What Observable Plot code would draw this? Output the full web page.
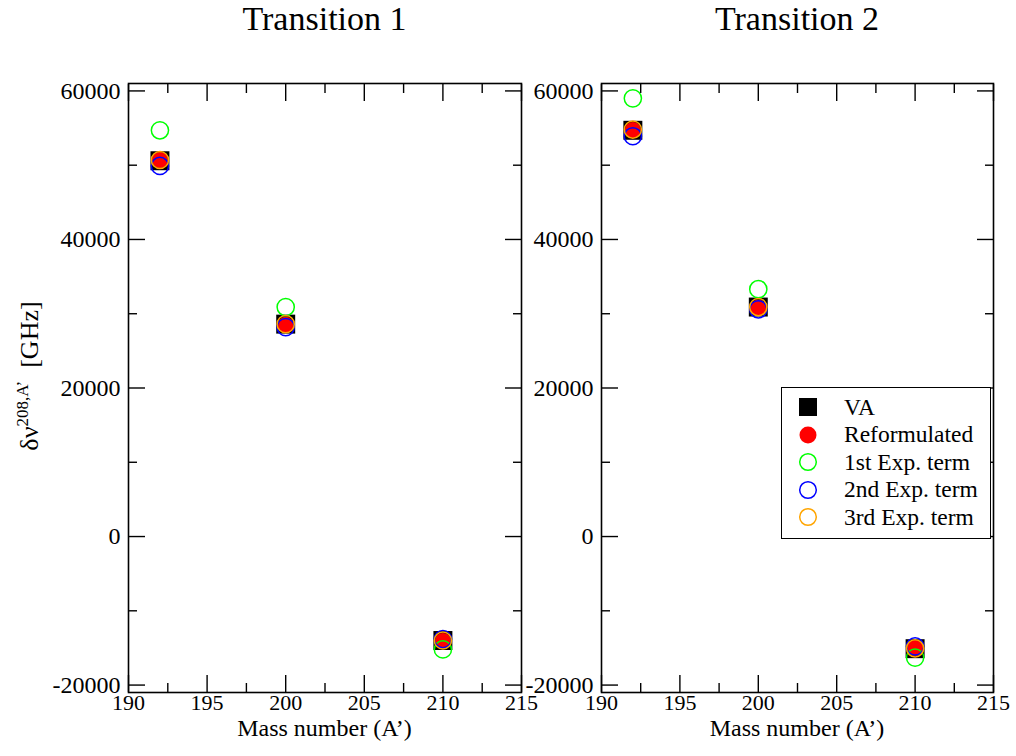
<!DOCTYPE html>
<html>
<head>
<meta charset="utf-8">
<script src="https://cdn.jsdelivr.net/npm/d3@7"></script>
<script src="https://cdn.jsdelivr.net/npm/@observablehq/plot@0.6"></script>
<style>
  html, body { margin: 0; padding: 0; background: white; }
  #wrap { position: relative; width: 1016px; height: 756px; font-family: "Liberation Serif", "DejaVu Serif", serif; color: black; overflow: hidden; }
  .panel { position: absolute; top: 50px; }
  .title { position: absolute; top: 2px; font-size: 34px; line-height: 34px; text-align: center; white-space: nowrap; transform: translateX(-50%); }
  .xlabel { position: absolute; top: 716px; font-size: 24px; line-height: 24px; white-space: nowrap; transform: translateX(-50%); }
  .ylabel { position: absolute; left: 29px; top: 376px; font-size: 26px; white-space: nowrap; transform: translate(-50%, -50%) rotate(-90deg); }
  .ylabel sup { font-size: 17px; }
  #legend { position: absolute; left: 781px; top: 387px; width: 210px; height: 152px; border: 1px solid black; background: white; box-sizing: border-box; font-size: 23.5px; }
  #legend .row { position: absolute; left: 0; height: 26px; display: flex; align-items: center; white-space: nowrap; }
  #legend svg { margin-left: 16px; margin-right: 26px; flex: none; }
</style>
</head>
<body>
<div id="wrap"></div>
<script>
// Mass numbers A' of the isotopes compared with 208
const massNumbers = [192, 200, 210];

// Isotope shifts δν^{208,A'} in GHz, transition 1
const va1 = [50600, 28600, -14000];
const reformulated1 = [50700, 28500, -14050];
const exp1st1 = [54700, 30900, -15200];
const exp2nd1 = [49900, 28200, -13800];
const exp3rd1 = [50700, 28600, -14000];

// Isotope shifts δν^{208,A'} in GHz, transition 2
const va2 = [54700, 30900, -15100];
const reformulated2 = [54750, 30800, -15000];
const exp1st2 = [59000, 33300, -16300];
const exp2nd2 = [53900, 30600, -14800];
const exp3rd2 = [54800, 30900, -15050];

// Axis ticks
const xMajor = [190, 195, 200, 205, 210, 215];
const xMinor = [192.5, 197.5, 202.5, 207.5, 212.5];
const yMajor = [-20000, 0, 20000, 40000, 60000];
const yMinor = [-10000, 10000, 30000, 50000];

const seriesNames = ["VA", "Reformulated", "1st Exp. term", "2nd Exp. term", "3rd Exp. term"];
const panelTitles = ["Transition 1", "Transition 2"];

// Marker style per series (drawn in this order)
const styles = {
  "VA": {symbol: "square", r: 10.7, fill: "black", stroke: "none"},
  "Reformulated": {symbol: "circle", r: 8, fill: "#ff0000", stroke: "none"},
  "1st Exp. term": {symbol: "circle", r: 8.6, fill: "none", stroke: "#00ff00", strokeWidth: 1.5},
  "2nd Exp. term": {symbol: "circle", r: 8.6, fill: "none", stroke: "#0000ff", strokeWidth: 1.5},
  "3rd Exp. term": {symbol: "circle", r: 8.6, fill: "none", stroke: "#ffa500", strokeWidth: 1.5}
};

const panels = [
  {title: panelTitles[0], series: [va1, reformulated1, exp1st1, exp2nd1, exp3rd1], left: 0, width: 560, marginLeft: 128, marginRight: 39},
  {title: panelTitles[1], series: [va2, reformulated2, exp1st2, exp2nd2, exp3rd2], left: 520, width: 496, marginLeft: 81, marginRight: 23}
];

const wrap = document.getElementById("wrap");
const fmt = d => String(d);
const blank = () => "";

panels.forEach(p => {
  const rows = [];
  p.series.forEach((vals, s) => vals.forEach((v, i) => rows.push({series: seriesNames[s], mass: massNumbers[i], shift: v})));

  const dots = seriesNames.map(name => {
    const st = styles[name];
    return Plot.dot(rows.filter(d => d.series === name), {x: "mass", y: "shift", ...st});
  });

  const plot = Plot.plot({
    width: p.width,
    height: 706,
    marginLeft: p.marginLeft,
    marginRight: p.marginRight,
    marginTop: 33,
    marginBottom: 64,
    x: {domain: [190, 215]},
    y: {domain: [-21000, 61000]},
    style: {fontFamily: '"Liberation Serif", serif', fontSize: "22px", background: "transparent", color: "black", overflow: "visible"},
    marks: [
      // inward major and minor ticks on all four sides
      Plot.axisX(xMajor, {anchor: "bottom", tickSize: -17, tickFormat: blank, label: null, strokeWidth: 1.4}),
      Plot.axisX(xMinor, {anchor: "bottom", tickSize: -9, tickFormat: blank, label: null, strokeWidth: 1.4}),
      Plot.axisX(xMajor, {anchor: "top", tickSize: -17, tickFormat: blank, label: null, strokeWidth: 1.4}),
      Plot.axisX(xMinor, {anchor: "top", tickSize: -9, tickFormat: blank, label: null, strokeWidth: 1.4}),
      Plot.axisY(yMajor, {anchor: "left", tickSize: -17, tickFormat: blank, label: null, strokeWidth: 1.4}),
      Plot.axisY(yMinor, {anchor: "left", tickSize: -9, tickFormat: blank, label: null, strokeWidth: 1.4}),
      Plot.axisY(yMajor, {anchor: "right", tickSize: -17, tickFormat: blank, label: null, strokeWidth: 1.4}),
      Plot.axisY(yMinor, {anchor: "right", tickSize: -9, tickFormat: blank, label: null, strokeWidth: 1.4}),
      // tick labels
      Plot.axisX(xMajor, {anchor: "bottom", tickSize: 0, tickPadding: 2, tickFormat: fmt, label: null, fontSize: 22}),
      Plot.axisY(yMajor, {anchor: "left", tickSize: 0, tickPadding: 8, tickFormat: fmt, label: null, fontSize: 24}),
      Plot.frame({stroke: "black", strokeWidth: 1.6}),
      ...dots
    ]
  });
  plot.classList.add("panel");
  plot.style.left = p.left + "px";
  wrap.appendChild(plot);

  const cx = p.left + p.marginLeft + (p.width - p.marginLeft - p.marginRight) / 2;
  const t = document.createElement("div");
  t.className = "title";
  t.style.left = cx + "px";
  t.textContent = p.title;
  wrap.appendChild(t);

  const xl = document.createElement("div");
  xl.className = "xlabel";
  xl.style.left = cx + "px";
  xl.textContent = "Mass number (A’)";
  wrap.appendChild(xl);
});

// y-axis label
const yl = document.createElement("div");
yl.className = "ylabel";
yl.innerHTML = "δν<sup>208,A’</sup>&nbsp;&nbsp;[GHz]";
wrap.appendChild(yl);

// legend
const legend = document.createElement("div");
legend.id = "legend";
seriesNames.forEach((name, i) => {
  const st = styles[name];
  const row = document.createElement("div");
  row.className = "row";
  row.style.top = (6 + i * 27.5) + "px";
  const svg = d3.create("svg").attr("width", 20).attr("height", 20);
  if (st.symbol === "square") {
    svg.append("rect").attr("x", 1).attr("y", 1).attr("width", 18).attr("height", 18).attr("fill", st.fill);
  } else {
    svg.append("circle").attr("cx", 10).attr("cy", 10).attr("r", st.fill === "none" ? 8.3 : 8.5)
      .attr("fill", st.fill).attr("stroke", st.stroke).attr("stroke-width", st.strokeWidth || 0);
  }
  row.appendChild(svg.node());
  const label = document.createElement("span");
  label.textContent = name;
  row.appendChild(label);
  legend.appendChild(row);
});
wrap.appendChild(legend);
</script>
</body>
</html>
